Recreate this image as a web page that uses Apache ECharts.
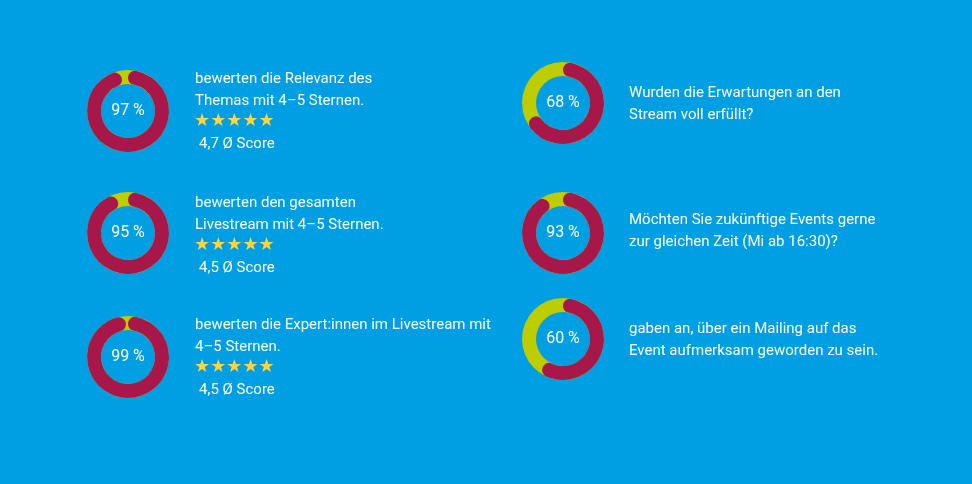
<!DOCTYPE html>
<html><head><meta charset="utf-8">
<script src="https://cdn.jsdelivr.net/npm/echarts@6/dist/echarts.min.js"></script>
<style>html,body{margin:0;padding:0;background:#009FE3;}#c{width:972px;height:484px;}</style>
</head><body><div id="c"></div>
<script>
const percentages = [97, 95, 99, 68, 93, 60];
const questionLines = [
  ["bewerten die Relevanz des", "Themas mit 4–5 Sternen."],
  ["bewerten den gesamten", "Livestream mit 4–5 Sternen."],
  ["bewerten die Expert:innen im Livestream mit", "4–5 Sternen."],
  ["Wurden die Erwartungen an den", "Stream voll erfüllt?"],
  ["Möchten Sie zukünftige Events gerne", "zur gleichen Zeit (Mi ab 16:30)?"],
  ["gaben an, über ein Mailing auf das", "Event aufmerksam geworden zu sein."]
];
const scores = ["4,7 Ø Score", "4,5 Ø Score", "4,5 Ø Score", null, null, null];

// layout
const centers = [[128,111],[128,233],[128,357],[563,103],[563,233],[563,339]];
const textPos = [[195,80],[195,204],[195,326],[629,94],[629,221],[629,330]];
const RED = '#A8174A', GREEN = '#BDCD00', FONT = 'Roboto';
const RADIUS = [27, 41];

const series = [];
percentages.forEach((v, i) => {
  series.push({
    type: 'pie', center: centers[i], radius: RADIUS, silent: true,
    label: {show: false}, labelLine: {show: false}, animation: false,
    itemStyle: {color: GREEN, borderWidth: 0},
    data: [{value: 100, name: 'bg'}]
  });
  series.push({
    type: 'pie', center: centers[i], radius: RADIUS, startAngle: 90, clockwise: true,
    animation: false, silent: true, labelLine: {show: false},
    itemStyle: {borderRadius: 7, borderWidth: 0},
    label: {show: false},
    data: [
      {value: v, name: 'yes', itemStyle: {color: RED},
       label: {show: true, position: 'center', formatter: v + ' %',
         color: '#fff', fontSize: 16, fontFamily: FONT, fontWeight: 'normal'}},
      {value: 100 - v, name: 'rest', itemStyle: {color: 'rgba(0,0,0,0)'}}
    ]
  });
});

const graphic = [];
questionLines.forEach((lines, i) => {
  const [x, y] = textPos[i];
  lines.forEach((t, j) => {
    graphic.push({type: 'text', left: x, top: y - 8 + j * 22,
      style: {text: t, fill: '#fff', font: '15px ' + FONT}});
  });
  if (scores[i]) {
    graphic.push({type: 'text', left: x - 1, top: y + 32,
      style: {text: '★★★★★', fill: '#FFD53D', font: '18px "DejaVu Sans"'}});
    graphic.push({type: 'text', left: x + 4, top: y + 57,
      style: {text: scores[i], fill: '#fff', font: '15px ' + FONT}});
  }
});

const chart = echarts.init(document.getElementById('c'));
chart.setOption({backgroundColor: '#009FE3', animation: false, series, graphic});
</script></body></html>
